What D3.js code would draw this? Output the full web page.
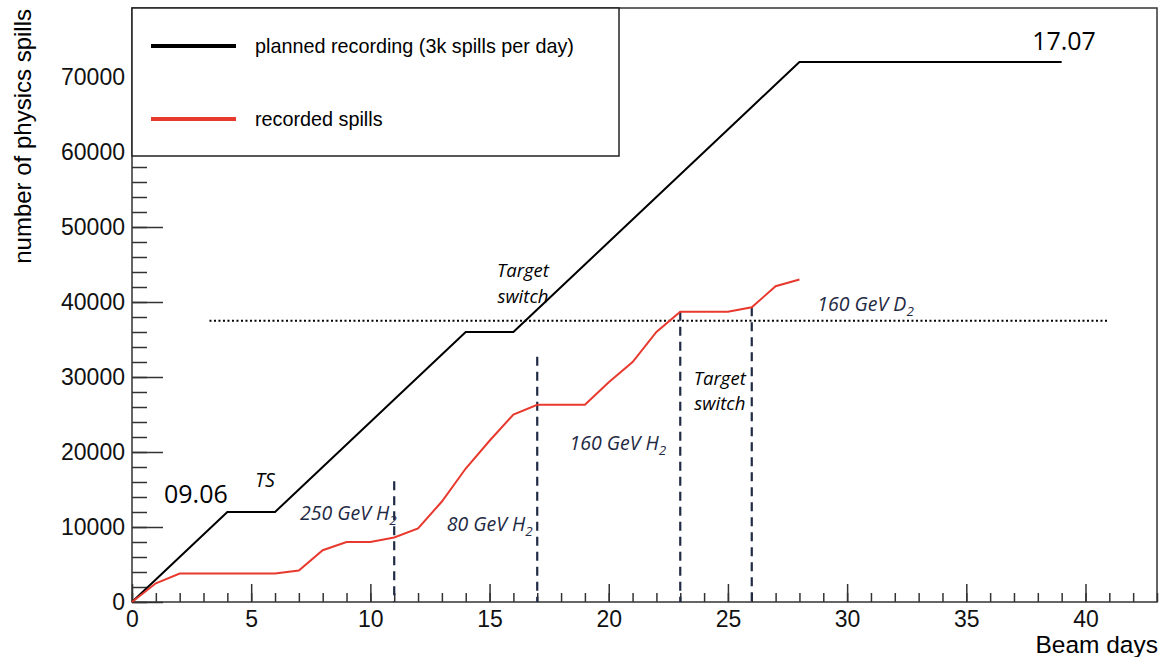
<!DOCTYPE html>
<html>
<head>
<meta charset="utf-8">
<script src="https://cdn.jsdelivr.net/npm/d3@7"></script>
<style>
  body { margin: 0; background: #fff; }
  svg { display: block; }
  text { font-family: "Liberation Sans", Arial, sans-serif; }
  .note { font-family: "Open Sans", sans-serif; font-style: italic; }
</style>
</head>
<body>
<svg id="main" width="1167" height="657"></svg>
<script>
// planned recording, 3k spills per beam day
var planDays = [0, 1, 2, 3, 4, 6, 7, 8, 9, 10, 11, 12, 13, 14, 16, 17, 18, 19, 20, 21, 22, 23, 24, 25, 26, 27, 28, 39]
var planSpills = [0, 3000, 6000, 9000, 12000, 12000, 15000, 18000, 21000, 24000, 27000, 30000, 33000, 36000,
  36000, 39000, 42000, 45000, 48000, 51000, 54000, 57000, 60000, 63000, 66000, 69000, 72000, 72000]

// recorded spills
var recDays = [0, 1, 2, 3, 4, 5, 6, 7, 8, 9, 10, 11, 12, 13, 14, 15, 16, 17, 18, 19, 20, 21, 22, 23, 24, 25, 26, 27, 28]
var recSpills = [0, 2500, 3800, 3800, 3800, 3800, 3800, 4200, 6900, 8000, 8000, 8600, 9800, 13400, 17800,
  21500, 25000, 26300, 26300, 26300, 29300, 32000, 36000, 38700, 38700, 38700, 39300, 42100, 43000]

// beam setting changes (vertical dashed markers)
var switchDays = [11, 17, 23, 26]
var switchTops = [16100, 32700, 38700, 39300]

// dotted reference level
var refLevel = 37500
var refFrom = 3.25
var refTo = 41

var xTicks = [0, 5, 10, 15, 20, 25, 30, 35, 40]
var yTicks = [0, 10000, 20000, 30000, 40000, 50000, 60000, 70000]

var legendLabels = ['planned recording (3k spills per day)', 'recorded spills']

var config = {
  left: 132, right: 1157, top: 8, bottom: 602,
  black: '#000', red: '#e8392e', navy: '#1f2a44'
}

var svg = d3.select('#main')

var x = d3.scaleLinear().domain([0, 43]).range([config.left, config.right])
var y = d3.scaleLinear().domain([0, 79200]).range([config.bottom, config.top])

var line = d3.line()
  .x(d => x(d[0]))
  .y(d => y(d[1]))

// minor + major ticks, drawn inside the frame like ROOT does
svg.append('g')
    .attr('transform', `translate(0, ${config.bottom})`)
    .call(d3.axisBottom(x).tickValues(d3.range(0, 44, 1)).tickSize(-9).tickFormat(''))
svg.append('g')
    .attr('class', 'xaxis')
    .attr('transform', `translate(0, ${config.bottom})`)
    .call(d3.axisBottom(x).tickValues(xTicks).tickSize(-18).tickPadding(8).tickFormat(d3.format('d')))

svg.append('g')
    .attr('transform', `translate(${config.left}, 0)`)
    .call(d3.axisLeft(y).tickValues(d3.range(0, 79200, 2000)).tickSize(-15).tickFormat(''))
svg.append('g')
    .attr('class', 'yaxis')
    .attr('transform', `translate(${config.left}, 0)`)
    .call(d3.axisLeft(y).tickValues(yTicks).tickSize(-31).tickPadding(7).tickFormat(d3.format('d')))

svg.selectAll('.domain').remove()
svg.selectAll('.tick line').attr('stroke', '#333').attr('stroke-width', 1.5)
svg.selectAll('.xaxis text, .yaxis text')
    .style('font-size', '23px')
    .attr('fill', '#111')
svg.selectAll('.xaxis text').attr('dy', '0.72em')

// frame
svg.append('rect')
    .attr('x', config.left)
    .attr('y', config.top)
    .attr('width', config.right - config.left)
    .attr('height', config.bottom - config.top)
    .attr('fill', 'none')
    .attr('stroke', '#333')
    .attr('stroke-width', 1.5)

// axis titles
svg.append('text')
    .attr('x', config.right + 1)
    .attr('y', 653)
    .attr('text-anchor', 'end')
    .style('font-size', '24.5px')
    .text('Beam days')

svg.append('text')
    .attr('transform', 'translate(31, 9) rotate(-90)')
    .attr('text-anchor', 'end')
    .style('font-size', '24px')
    .text('number of physics spills')

// dotted level
svg.append('line')
    .attr('x1', x(refFrom)).attr('x2', x(refTo))
    .attr('y1', y(refLevel)).attr('y2', y(refLevel))
    .attr('stroke', '#000')
    .attr('stroke-width', 2)
    .attr('stroke-dasharray', '2,2.5')

// dashed markers
svg.selectAll('line.switch')
  .data(switchDays)
  .enter()
  .append('line')
    .attr('class', 'switch')
    .attr('x1', d => x(d)).attr('x2', d => x(d))
    .attr('y1', (d, i) => y(switchTops[i]))
    .attr('y2', y(0))
    .attr('stroke', config.navy)
    .attr('stroke-width', 2.2)
    .attr('stroke-dasharray', '9,6')

// series
svg.append('path')
    .attr('d', line(d3.zip(planDays, planSpills)))
    .attr('fill', 'none')
    .attr('stroke', config.black)
    .attr('stroke-width', 2)

svg.append('path')
    .attr('d', line(d3.zip(recDays, recSpills)))
    .attr('fill', 'none')
    .attr('stroke', config.red)
    .attr('stroke-width', 2)

// date labels
function plain (t, dx, dy) {
  svg.append('text')
      .attr('x', x(dx)).attr('y', y(dy))
      .attr('text-anchor', 'middle')
      .style('font-family', '"Open Sans", sans-serif')
      .style('font-size', '25px')
      .text(t)
}
plain('09.06', 2.68, 13200)
plain('17.07', 39.1, 73600)

// italic notes
function note (t, dx, dy, color, anchor, sub) {
  var tx = svg.append('text')
      .attr('class', 'note')
      .attr('x', x(dx)).attr('y', y(dy))
      .attr('text-anchor', anchor)
      .attr('fill', color)
      .style('font-size', '19.5px')
      .text(t)
  if (sub) {
    tx.append('tspan')
        .attr('dy', 5)
        .style('font-size', '13.5px')
        .text(sub)
  }
  return tx
}

// two-line note in one text element
function note2 (lines, dx, dy) {
  var tx = svg.append('text')
      .attr('class', 'note')
      .attr('text-anchor', 'middle')
      .style('font-size', '18.5px')
  lines.forEach(function (l, i) {
    tx.append('tspan')
        .attr('x', x(dx))
        .attr('y', y(dy) + i * 25.5)
        .text(l)
  })
}

note('TS', 5.58, 15300, '#000', 'middle')
note2(['Target', 'switch'], 16.4, 43300)
note2(['Target', 'switch'], 24.66, 29000)
note('250 GeV H', 7.05, 10900, config.navy, 'start', '2')
note('80 GeV H', 13.2, 9500, config.navy, 'start', '2')
note('160 GeV H', 18.35, 20300, config.navy, 'start', '2')
note('160 GeV D', 28.75, 38800, config.navy, 'start', '2')

// legend box covering the top-left corner
var legend = svg.append('g')
legend.append('rect')
    .attr('x', config.left)
    .attr('y', config.top)
    .attr('width', 619 - config.left)
    .attr('height', 156 - config.top)
    .attr('fill', '#fff')
    .attr('stroke', '#222')
    .attr('stroke-width', 1.5)

legendLabels.forEach(function (label, i) {
  var ly = 46 + i * 73
  legend.append('line')
      .attr('x1', 151).attr('x2', 236)
      .attr('y1', ly).attr('y2', ly)
      .attr('stroke', i === 0 ? config.black : config.red)
      .attr('stroke-width', 4)
  legend.append('text')
      .attr('x', 255).attr('y', ly + 7)
      .style('font-size', '19.8px')
      .text(label)
})
</script>
</body>
</html>
